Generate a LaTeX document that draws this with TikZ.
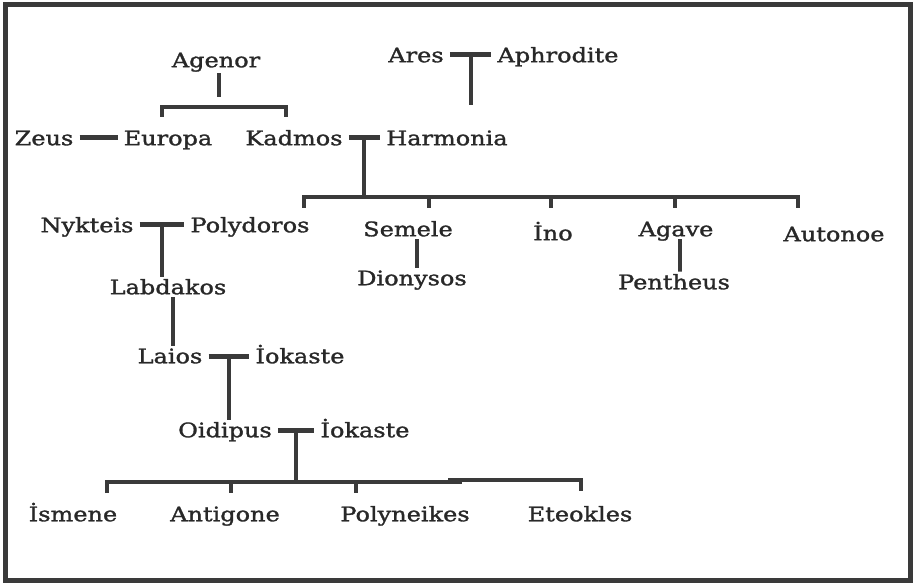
\documentclass[tikz,border=0pt]{standalone}
\usepackage{fontspec}
\setmainfont{DejaVu Serif}[FakeStretch=1.2, FakeBold=1.5]
\usepackage{tikz}
\usetikzlibrary{calc}
\definecolor{TreeInk}{RGB}{40,40,40}
\definecolor{TreeLine}{RGB}{58,58,58}

\begin{document}
\begin{tikzpicture}[x=1pt, y=-1pt,
      who/.style={inner sep=3pt, text height=14.5pt, text depth=0pt,
                  text=TreeInk, font=\fontsize{20}{24}\selectfont},
      wed/.style={line width=5pt, TreeLine, shorten >=3pt, shorten <=3pt},
      kin/.style={line width=4pt, TreeLine}
    ]
    \useasboundingbox (0,0) rectangle (915,585);
    \draw[line width=5pt, TreeLine] (5,5) rectangle (910,580);

    %--- Agenor, Ares and Aphrodite ---
    \node[who] (agenor) at (216,60) {Agenor};
    \node[who] (ares) at (416,55) {Ares};
    \node[who] (aphrodite) at (558,55) {Aphrodite};
    \draw[wed] (ares) -- coordinate (aa) (aphrodite);
    \draw[kin] (aa) -- ++(0,50);

    %--- Zeus, Europa, Kadmos, Harmonia ---
    \node[who] (zeus) at (44,138) {Zeus};
    \node[who] (europa) at (168,138) {Europa};
    \node[who] (kadmos) at (294,138) {Kadmos};
    \node[who] (harmonia) at (447,138) {Harmonia};
    \draw[kin] ($(agenor.south)+(3,3)$) -- ++(0,24);
    \draw[kin] ($(europa.north)+(-6,-11)$) |- ($(kadmos.north)+(-8,-21)$)
          -- ($(kadmos.north)+(-8,-11)$);
    \draw[wed] (zeus) -- (europa);
    \draw[wed] (kadmos) -- coordinate (kh) (harmonia);
    \draw[kin] (kh) -- ++(0,59) coordinate (kbar);

    %--- children of Kadmos ---
    \node[who] (nykteis) at (87,225) {Nykteis};
    \node[who] (polydoros) at (250,225) {Polydoros};
    \node[who] (semele) at (408,229) {Semele};
    \node[who] (ino) at (553,233) {İno};
    \node[who] (agave) at (676,229) {Agave};
    \node[who] (autonoe) at (834,234) {Autonoe};
    \node[who] (dionysos) at (412,278) {Dionysos};
    \node[who] (pentheus) at (674,282) {Pentheus};

    \draw[kin] ([xshift=54pt]polydoros.north |- kbar) ++(0,11)
          |- ([xshift=-36pt]autonoe.north |- kbar) -- ++(0,11);
    \foreach \c/\dx in {semele/21, ino/-2, agave/-1}
      \draw[kin] ([xshift=\dx pt]\c.north |- kbar) -- ++(0,11);
    \draw[kin] ([xshift=9pt]semele.south) -- ([xshift=9pt]semele.south |- dionysos.north);
    \draw[kin] ([xshift=4pt]agave.south) -- ([xshift=4pt]agave.south |- pentheus.north)
          -- ++(0,-7);

    %--- line of Polydoros ---
    \node[who] (labdakos) at (168,287) {Labdakos};
    \node[who] (laios) at (170,356) {Laios};
    \node[who] (iokastea) at (300,356) {İokaste};
    \node[who] (oidipus) at (225,430) {Oidipus};
    \node[who] (iokasteb) at (365,430) {İokaste};

    \draw[wed] (nykteis) -- coordinate (np) (polydoros);
    \draw[kin] (np) -- (np |- labdakos.north);
    \draw[kin] ([xshift=5pt]labdakos.south) -- ([xshift=5pt]labdakos.south |- laios.north);
    \draw[wed] (laios) -- coordinate (li) (iokastea);
    \draw[kin] (li) -- (li |- oidipus.north);
    \draw[wed] (oidipus) -- coordinate (oi) (iokasteb);
    \draw[kin] (oi) -- ++(0,52) coordinate (obar);

    %--- children of Oidipus ---
    \node[who] (ismene) at (73,514) {İsmene};
    \node[who] (antigone) at (225,514) {Antigone};
    \node[who] (polyneikes) at (405,514) {Polyneikes};
    \node[who] (eteokles) at (580,514) {Eteokles};

    \draw[kin] ($([xshift=34pt]ismene.north |- obar)+(0,11)$) -- ++(0,-11)
          -- ($(polyneikes.north |- obar)+(57,0)$);
    \draw[kin] ($(polyneikes.north |- obar)+(43,-2)$)
          -| ($([xshift=1pt]eteokles.north |- obar)+(0,9)$);
    \foreach \c/\dx in {antigone/6, polyneikes/-49}
      \draw[kin] ([xshift=\dx pt]\c.north |- obar) -- ++(0,11);
  \end{tikzpicture}
\end{document}
